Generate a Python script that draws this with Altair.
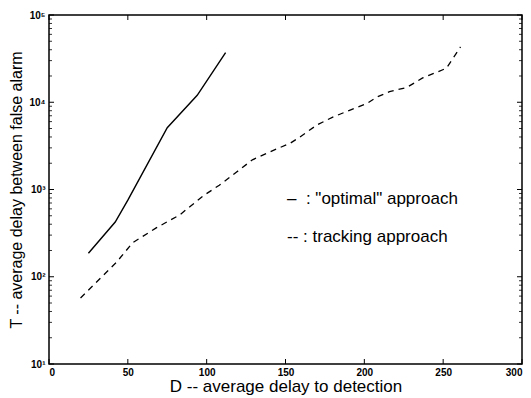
import altair as alt
import pandas as pd

# Solid "optimal" approach
opt_D = [25, 42, 50, 75, 94, 112]
opt_T = [186, 424, 755, 5100, 12000, 37000]

# Dashed tracking approach
trk_D = [20, 43, 53, 68, 83, 98, 108, 119, 129, 145, 153, 159, 170, 180, 191, 202, 208, 216, 227, 237, 252, 261]
trk_T = [57, 148, 245, 363, 513, 850, 1120, 1585, 2190, 2950, 3390, 3980, 5500, 6760, 8130, 9770, 11500, 13200, 14800, 19000, 24500, 43000]

x_ticks = [0, 50, 100, 150, 200, 250, 300]
y_major = [10, 100, 1000, 10000, 100000]
y_minor = [m * d for d in [10, 100, 1000, 10000] for m in range(2, 10)]

legend_labels = ["\u2013\u00a0\u00a0: \"optimal\" approach", "--\u00a0: tracking approach"]

W, H = 473, 349
FONT = "Liberation Sans"

xs = alt.Scale(domain=[0, 300], nice=False, zero=False)
ys = alt.Scale(type="log", domain=[10, 100000], nice=False)

df_opt = pd.DataFrame({"D": opt_D, "T": opt_T})
df_trk = pd.DataFrame({"D": trk_D, "T": trk_T})

sup = "{'1':'\u00b9','2':'\u00b2','3':'\u00b3','4':'\u2074','5':'\u2075'}"
label_expr = "'10' + " + sup + "[toString(round(log(datum.value)/log(10)))]"

x_axis = alt.Axis(values=x_ticks, ticks=False, domain=False, grid=False,
                  labelFontWeight="bold", labelFontSize=10, labelFont=FONT,
                  labelColor="black", labelPadding=3,
                  title="D -- average delay to detection", titleFont=FONT,
                  titleFontSize=17, titleFontWeight="normal", titleColor="black",
                  titlePadding=1)
y_axis = alt.Axis(values=y_major, ticks=False, domain=False, grid=False,
                  labelExpr=label_expr, labelFontWeight="bold", labelFontSize=10,
                  labelFont=FONT, labelColor="black", labelPadding=4,
                  title="T -- average delay between false alarm", titleFont=FONT,
                  titleFontSize=16, titleFontWeight="normal", titleColor="black",
                  titlePadding=4)

X = alt.X("D:Q", scale=xs, axis=x_axis, title="D -- average delay to detection")
Y = alt.Y("T:Q", scale=ys, axis=y_axis, title="T -- average delay between false alarm")

line_opt = alt.Chart(df_opt).mark_line(color="black", strokeWidth=1.4).encode(x=X, y=Y)
line_trk = alt.Chart(df_trk).mark_line(color="black", strokeWidth=1.3, strokeDash=[6, 5]).encode(x=X, y=Y)

df_xt = pd.DataFrame({"D": x_ticks})
xt_bot = alt.Chart(df_xt).mark_rule(color="black", strokeWidth=1).encode(
    x=X, y=alt.value(H), y2=alt.value(H - 5))
xt_top = alt.Chart(df_xt).mark_rule(color="black", strokeWidth=1).encode(
    x=X, y=alt.value(0), y2=alt.value(5))

df_ymaj = pd.DataFrame({"T": y_major})
df_ymin = pd.DataFrame({"T": y_minor})
yt_l = alt.Chart(df_ymaj).mark_rule(color="black").encode(y=Y, x=alt.value(0), x2=alt.value(5))
yt_r = alt.Chart(df_ymaj).mark_rule(color="black").encode(y=Y, x=alt.value(W), x2=alt.value(W - 5))
ym_l = alt.Chart(df_ymin).mark_rule(color="black", strokeWidth=0.8).encode(y=Y, x=alt.value(0), x2=alt.value(3))
ym_r = alt.Chart(df_ymin).mark_rule(color="black", strokeWidth=0.8).encode(y=Y, x=alt.value(W), x2=alt.value(W - 3))

leg_layers = []
for lbl, ypix in zip(legend_labels, [184, 222]):
    leg_layers.append(
        alt.Chart(pd.DataFrame({"label": [lbl]})).mark_text(
            align="left", baseline="middle", font=FONT, fontSize=17, color="black"
        ).encode(x=alt.value(238), y=alt.value(ypix), text="label:N")
    )

chart = alt.layer(line_opt, line_trk, xt_bot, xt_top, yt_l, yt_r, ym_l, ym_r, *leg_layers).properties(
    width=W, height=H,
    padding={"left": 49, "top": 15, "right": 9, "bottom": 34},
    autosize=alt.AutoSizeParams(type="none"),
    background="white",
).configure_view(stroke="black", strokeWidth=1.5)

chart.save("out.html", embed_options={"renderer": "svg", "actions": False})
